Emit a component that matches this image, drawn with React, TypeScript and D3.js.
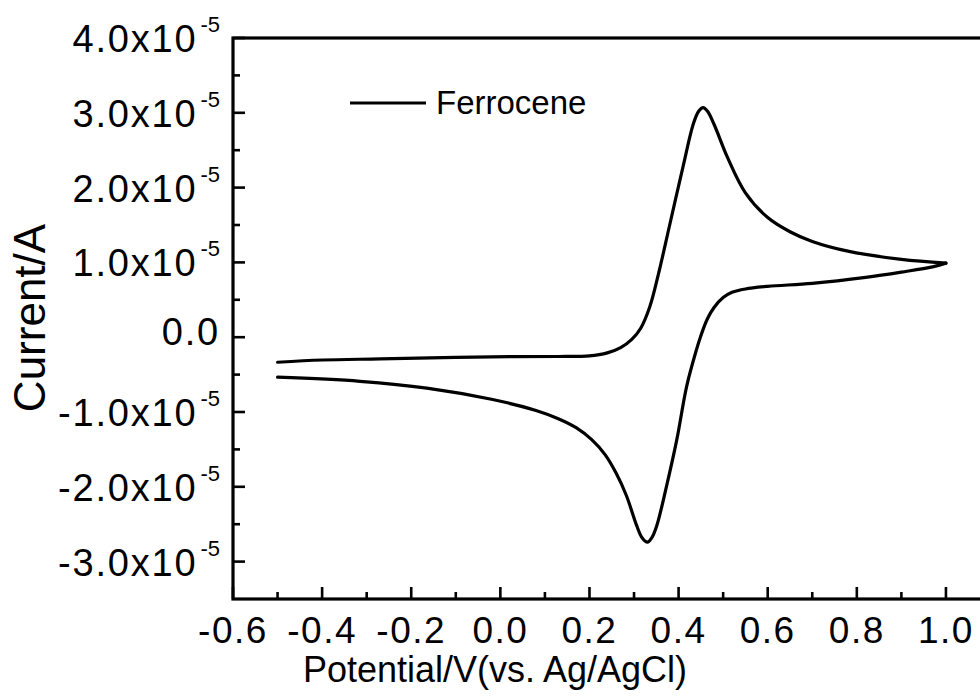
import { useEffect, useRef } from 'react';
import * as d3 from 'd3';

// forward scan (upper branch), potential in V, current in 1e-5 A
const forwardV = [-0.5, -0.4, -0.27, -0.1, 0.03, 0.13, 0.2, 0.24, 0.27, 0.295, 0.315, 0.335, 0.355, 0.38, 0.41, 0.433, 0.445, 0.455, 0.465, 0.48, 0.51, 0.55, 0.6, 0.65, 0.7, 0.78, 0.9, 1.0];
const forwardI = [-0.335, -0.305, -0.29, -0.27, -0.26, -0.258, -0.25, -0.21, -0.14, -0.03, 0.12, 0.4, 0.85, 1.5, 2.28, 2.85, 3.02, 3.07, 3.02, 2.84, 2.4, 1.93, 1.6, 1.41, 1.28, 1.15, 1.04, 0.99];

// reverse scan (lower branch)
const reverseV = [1.0, 0.97, 0.9, 0.82, 0.7, 0.6, 0.55, 0.52, 0.5, 0.48, 0.465, 0.45, 0.44, 0.418, 0.396, 0.373, 0.351, 0.34, 0.33, 0.318, 0.306, 0.283, 0.26, 0.235, 0.205, 0.17, 0.13, 0.08, -0.02, -0.165, -0.315, -0.5];
const reverseI = [0.99, 0.94, 0.87, 0.8, 0.72, 0.68, 0.645, 0.6, 0.53, 0.4, 0.25, 0.02, -0.17, -0.66, -1.37, -1.99, -2.52, -2.68, -2.74, -2.68, -2.52, -2.12, -1.82, -1.57, -1.37, -1.21, -1.09, -0.98, -0.83, -0.68, -0.59, -0.535];

const xTicks = [-0.6, -0.4, -0.2, 0.0, 0.2, 0.4, 0.6, 0.8, 1.0];
const xTickLabels = ['-0.6', '-0.4', '-0.2', '0.0', '0.2', '0.4', '0.6', '0.8', '1.0'];
const xMinorTicks = [-0.5, -0.3, -0.1, 0.1, 0.3, 0.5, 0.7, 0.9];

const yTicks = [-3, -2, -1, 0, 1, 2, 3, 4];
const yTickLabels = ['-3.0x10', '-2.0x10', '-1.0x10', '0.0', '1.0x10', '2.0x10', '3.0x10', '4.0x10'];
const yMinorTicks = [-2.5, -1.5, -0.5, 0.5, 1.5, 2.5, 3.5];

const legendLabel = 'Ferrocene';
const font = '"Liberation Sans", Arial, sans-serif';

const App = () => {
  const svgRef = useRef(null);

  useEffect(() => {
    const svg = d3.select(svgRef.current);
    svg.selectAll('*').remove();

    const x = d3.scaleLinear().domain([-0.6, 1.1]).range([233, 990.5]);
    const y = d3.scaleLinear().domain([-3.5, 4]).range([599, 38]);

    // frame
    svg.append('rect')
      .attr('x', x(-0.6)).attr('y', y(4))
      .attr('width', x(1.1) - x(-0.6)).attr('height', y(-3.5) - y(4))
      .attr('fill', 'none').attr('stroke', '#000').attr('stroke-width', 3.2);

    const g = svg.append('g').attr('stroke', '#000').attr('stroke-width', 2.6);

    // x ticks (inward)
    g.selectAll('line.xmaj').data(xTicks).enter().append('line')
      .attr('x1', (d) => x(d)).attr('x2', (d) => x(d))
      .attr('y1', y(-3.5)).attr('y2', y(-3.5) - 12);
    g.selectAll('line.xmin').data(xMinorTicks).enter().append('line')
      .attr('x1', (d) => x(d)).attr('x2', (d) => x(d))
      .attr('y1', y(-3.5)).attr('y2', y(-3.5) - 7);

    // y ticks (inward)
    g.selectAll('line.ymaj').data(yTicks).enter().append('line')
      .attr('x1', x(-0.6)).attr('x2', x(-0.6) + 12)
      .attr('y1', (d) => y(d)).attr('y2', (d) => y(d));
    g.selectAll('line.ymin').data(yMinorTicks).enter().append('line')
      .attr('x1', x(-0.6)).attr('x2', x(-0.6) + 7)
      .attr('y1', (d) => y(d)).attr('y2', (d) => y(d));

    // x tick labels
    svg.selectAll('text.xl').data(xTicks).enter().append('text')
      .attr('x', (d) => x(d)).attr('y', 643)
      .attr('text-anchor', 'middle')
      .style('font-family', font).style('font-size', '37px').style('letter-spacing', '1.5px')
      .text((d, i) => xTickLabels[i]);

    // y tick labels with superscript exponent
    yTicks.forEach((d, i) => {
      const label = yTickLabels[i];
      const hasExp = d !== 0;
      const t = svg.append('text')
        .attr('x', 220).attr('y', y(d) + (hasExp ? 14 : 8))
        .attr('text-anchor', 'end')
        .style('font-family', font).style('font-size', '38px').style('letter-spacing', '1.8px');
      t.append('tspan').text(label);
      if (hasExp) {
        t.append('tspan').attr('dy', -20).attr('dx', 3).style('font-size', '22px').style('letter-spacing', '0px').text('-5');
      }
    });

    // axis titles
    svg.append('text')
      .attr('x', 495).attr('y', 682).attr('text-anchor', 'middle')
      .style('font-family', font).style('font-size', '36px')
      .text('Potential/V(vs. Ag/AgCl)');
    svg.append('text')
      .attr('transform', 'translate(45,318) rotate(-90)').attr('text-anchor', 'middle')
      .style('font-family', font).style('font-size', '44px')
      .text('Current/A');

    // curves
    const line = d3.line()
      .x((d) => x(d[0]))
      .y((d) => y(d[1]))
      .curve(d3.curveCatmullRom.alpha(0.5));

    const fwd = forwardV.map((v, i) => [v, forwardI[i]]);
    const rev = reverseV.map((v, i) => [v, reverseI[i]]);
    [fwd, rev].forEach((pts) => {
      svg.append('path')
        .attr('d', line(pts))
        .attr('fill', 'none').attr('stroke', '#000').attr('stroke-width', 3.2)
        .attr('stroke-linecap', 'round').attr('stroke-linejoin', 'round');
    });

    // legend
    svg.append('line')
      .attr('x1', 350).attr('x2', 426).attr('y1', 103).attr('y2', 103)
      .attr('stroke', '#000').attr('stroke-width', 3.2);
    svg.append('text')
      .attr('x', 436).attr('y', 114)
      .style('font-family', font).style('font-size', '33px')
      .text(legendLabel);

    return () => d3.select(svgRef.current).selectAll('*').remove();
  }, []);

  return (
    <svg ref={svgRef} width={980} height={697}
      style={{ position: 'absolute', left: 0, top: 0, background: '#fff' }} />
  );
};

export default App;
